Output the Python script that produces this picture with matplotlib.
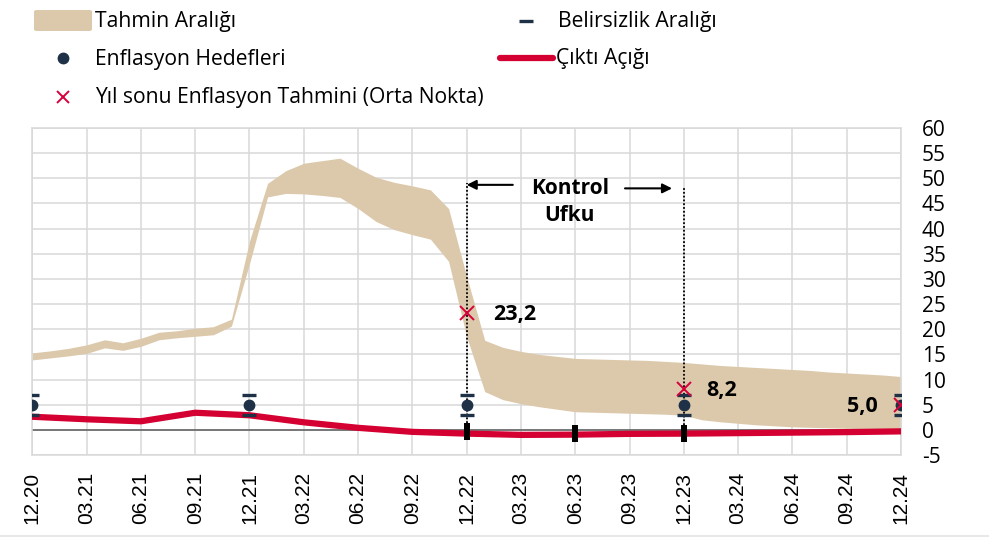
import numpy as np
import matplotlib
matplotlib.use("Agg")
import matplotlib.pyplot as plt
from matplotlib.patches import FancyBboxPatch
from matplotlib.lines import Line2D

plt.rcParams['font.family'] = ['Open Sans', 'DejaVu Sans']
plt.rcParams['axes.unicode_minus'] = False

# ---------------- data ----------------
tick_labels = ["12.20", "03.21", "06.21", "09.21", "12.21", "03.22", "06.22", "09.22",
               "12.22", "03.23", "06.23", "09.23", "12.23", "03.24", "06.24", "09.24", "12.24"]
months = np.arange(49)          # monthly index, 0 = 12.20
quarter_months = np.arange(0, 49, 3)

band_upper = [15.3, 15.7, 16.2, 16.9, 17.9, 17.3, 18.2, 19.4, 19.7, 20.2, 20.5, 22.0,
              37.5, 49.0, 51.5, 53.0, 53.5, 54.0, 52.0, 50.2, 49.2, 48.5, 47.7, 44.0, 30.5,
              17.8, 16.4, 15.6, 15.0, 14.6, 14.2, 14.1, 14.0, 13.9, 13.8, 13.6, 13.4,
              13.1, 12.8, 12.6, 12.4, 12.2, 12.0, 11.8, 11.5, 11.3, 11.1, 10.9, 10.6]
band_lower = [13.9, 14.3, 14.7, 15.2, 16.3, 15.8, 16.6, 17.9, 18.3, 18.6, 18.9, 20.6,
              33.0, 46.3, 47.0, 46.9, 46.6, 46.2, 44.0, 41.4, 39.8, 38.8, 37.9, 33.5, 18.5,
              7.6, 6.0, 5.2, 4.6, 4.1, 3.6, 3.5, 3.4, 3.3, 3.2, 3.1, 2.9,
              2.0, 1.6, 1.3, 1.0, 0.8, 0.6, 0.5, 0.4, 0.3, 0.2, 0.1, 0.0]

output_gap = [2.6, 2.1, 1.7, 3.4, 2.9, 1.5, 0.4, -0.4, -0.75, -1.0, -0.95, -0.8,
              -0.75, -0.65, -0.55, -0.45, -0.3]

gap_bar_months = [24, 30, 36]
gap_bar_low = [-2.1, -2.4, -2.4]
gap_bar_high = [1.4, 1.0, 1.0]

target_months = [0, 12, 24, 36, 48]
target_values = [5, 5, 5, 5, 5]
target_low = [3, 3, 3, 3, 3]
target_high = [7, 7, 7, 7, 7]

forecast_months = [24, 36, 48]
forecast_values = [23.2, 8.2, 5.0]
forecast_labels = ["23,2", "8,2", "5,0"]

horizon_start, horizon_end = 24, 36

# ---------------- style ----------------
BAND = '#dcc9ac'
RED = '#d50032'
XRED = '#d7003a'
NAVY = '#1e3147'
GRID = '#d9d9d9'
LEG_FS = 15.2

W, H = 989, 537
fig = plt.figure(figsize=(W / 100, H / 100), dpi=100)


def fx(px):
    return px / W


def fy(py):
    return 1 - py / H


ax = fig.add_axes([fx(32.3), fy(455), (901 - 32.3) / W, (455 - 128) / H])
ax.set_xlim(0, 48)
ax.set_ylim(-5, 60)

ax.fill_between(months, band_lower, band_upper, color=BAND, lw=0, zorder=2)
ax.axhline(0, color='#5a5a5a', lw=1.1, zorder=2.5)
ax.plot(quarter_months, output_gap, color=RED, lw=4.5, solid_capstyle='round',
        solid_joinstyle='round', zorder=3)
ax.vlines(gap_bar_months, gap_bar_low, gap_bar_high, color='black', lw=4.3, zorder=5)

# control horizon dotted lines
ax.vlines([horizon_start], [1.4], [49.1], colors='black', linestyles=(0, (1, 1.1)), lw=1.3, zorder=4)
ax.vlines([horizon_end], [1.0], [48.3], colors='black', linestyles=(0, (1, 1.1)), lw=1.3, zorder=4)

ax.plot(target_months, target_values, 'o', ms=7.5, color=NAVY, zorder=6)
ax.plot(target_months, target_low, '_', ms=10, mew=2.4, color=NAVY, zorder=6)
ax.plot(target_months, target_high, '_', ms=10, mew=2.4, color=NAVY, zorder=6)

ax.plot(forecast_months, forecast_values, 'x', ms=10, mew=1.4, color=XRED, zorder=7)

offsets = [(19.4, -0.7, 'left'), (16.3, -1.4, 'left'), (-16.5, -1.0, 'right')]
for m, v, lab, (dx, dy, ha) in zip(forecast_months, forecast_values, forecast_labels, offsets):
    ax.annotate(lab, (m, v), xytext=(dx, dy), textcoords='offset points',
                fontsize=15.5, fontweight='bold', ha=ha, va='center', zorder=8)

mid = (horizon_start + horizon_end) / 2
ax.text(mid - 0.3, 45.3, "Kontrol\nUfku", fontsize=15, fontweight='bold',
        ha='center', va='center', multialignment='center', linespacing=1.38, zorder=8)
ax.annotate('', xy=(horizon_start, 48.7), xytext=(horizon_start + 2.55, 48.7),
            arrowprops=dict(arrowstyle='-|>', color='black', lw=1.5, mutation_scale=14,
                            shrinkA=0, shrinkB=0))
ax.annotate('', xy=(horizon_end - 0.65, 48.0), xytext=(horizon_end - 3.25, 48.0),
            arrowprops=dict(arrowstyle='-|>', color='black', lw=1.5, mutation_scale=14,
                            shrinkA=0, shrinkB=0))

# axes
ax.set_xticks(quarter_months)
ax.set_xticklabels(tick_labels, rotation=90, fontsize=15, family=['Liberation Sans'])
ax.tick_params(axis='x', length=0, pad=12)
ax.yaxis.tick_right()
ax.set_yticks(np.arange(-5, 61, 5))
ax.tick_params(axis='y', length=0, pad=15, labelsize=15)
ax.grid(True, color=GRID, lw=1.1)
ax.set_axisbelow(True)
for s in ax.spines.values():
    s.set_color(GRID)
    s.set_linewidth(1.1)

# legend (manual)
fig.add_artist(FancyBboxPatch((fx(34), fy(31)), fx(58), 21 / H,
                              boxstyle='round,pad=0,rounding_size=0.003',
                              transform=fig.transFigure, fc=BAND, ec='none'))
fig.text(fx(95), fy(27.3), 'Tahmin Aralığı', fontsize=LEG_FS, va='baseline')
fig.add_artist(Line2D([fx(62.5)], [fy(58.3)], marker='o', ms=7.5, color=NAVY,
                      transform=fig.transFigure))
fig.text(fx(95), fy(65), 'Enflasyon Hedefleri', fontsize=LEG_FS, va='baseline')
fig.add_artist(Line2D([fx(62.5)], [fy(96.7)], marker='x', ms=9, mew=1.4, color=XRED,
                      transform=fig.transFigure))
fig.text(fx(95), fy(102.7), 'Yıl sonu Enflasyon Tahmini (Orta Nokta)', fontsize=LEG_FS, va='baseline')
fig.add_artist(Line2D([fx(526)], [fy(20.7)], marker='_', ms=10, mew=2.4, color=NAVY,
                      transform=fig.transFigure))
fig.text(fx(558), fy(26.5), 'Belirsizlik Aralığı', fontsize=LEG_FS, va='baseline')
fig.add_artist(Line2D([fx(500), fx(553)], [fy(58.3), fy(58.3)], lw=4.5, color=RED,
                      solid_capstyle='round', transform=fig.transFigure))
fig.text(fx(556), fy(64), 'Çıktı Açığı', fontsize=LEG_FS, va='baseline')

fig.add_artist(Line2D([0, 1], [fy(535.5), fy(535.5)], lw=1.5, color='#e8e8e8',
                      transform=fig.transFigure))

fig.savefig('out.png', dpi=100)
